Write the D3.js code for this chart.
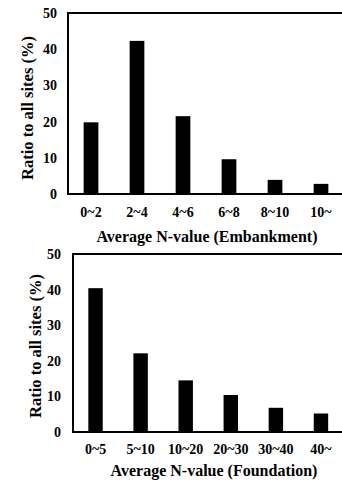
<!DOCTYPE html>
<html lang="en">
  <head>
    <script src="https://cdn.jsdelivr.net/npm/d3@7"></script>
    <style>
      body {
        margin: 0;
        background: #fff;
      }
      svg {
        display: block;
      }
    </style>
  </head>
  <body>
    <svg></svg>
  </body>
  <script>

    // Data
    const embCats = ['0~2', '2~4', '4~6', '6~8', '8~10', '10~'];
    const embVals = [19.8, 42.3, 21.5, 9.6, 3.9, 2.8];
    const fndCats = ['0~5', '5~10', '10~20', '20~30', '30~40', '40~'];
    const fndVals = [40.4, 22.1, 14.5, 10.4, 6.8, 5.2];
    const yTicks = [0, 10, 20, 30, 40, 50];

    const FONT = '"Liberation Serif", "Times New Roman", Times, "DejaVu Serif", serif';

    const width = 342;
    const height = 480;
    const svg = d3.select('svg')
        .attr('width', width)
        .attr('height', height);

    function panel(cats, vals, title, box) {
      const g = svg.append('g');

      const x = d3.scaleBand()
          .domain(cats)
          .range([box.left, box.right])
          .paddingInner(0.68)
          .paddingOuter(0.34);
      const y = d3.scaleLinear()
          .domain([0, 50])
          .range([box.bottom, box.top]);

      // bars
      g.selectAll('rect.bar')
          .data(cats.map((c, i) => ({ c: c, v: vals[i] })))
        .enter().append('rect')
          .attr('class', 'bar')
          .attr('x', d => x(d.c))
          .attr('y', d => y(d.v))
          .attr('width', x.bandwidth())
          .attr('height', d => y(0) - y(d.v))
          .attr('fill', '#000');

      // frame (right edge runs off the page)
      g.append('rect')
          .attr('x', box.left)
          .attr('y', box.top)
          .attr('width', box.right - box.left)
          .attr('height', box.bottom - box.top)
          .attr('fill', 'none')
          .attr('stroke', '#000')
          .attr('stroke-width', 2);

      const ya = g.append('g')
          .attr('transform', 'translate(' + box.left + ',0)')
          .call(d3.axisLeft(y).tickValues(yTicks).tickSize(0).tickPadding(box.yPad))
          .attr('font-family', FONT)
          .attr('font-size', 14)
          .attr('font-weight', 700);
      ya.select('.domain').remove();
      ya.selectAll('text').attr('fill', '#000');

      const xa = g.append('g')
          .attr('transform', 'translate(0,' + box.bottom + ')')
          .call(d3.axisBottom(x).tickSize(0).tickPadding(box.xPad))
          .attr('font-family', FONT)
          .attr('font-size', 14)
          .attr('font-weight', 700);
      xa.select('.domain').remove();
      xa.selectAll('text').attr('fill', '#000');

      // axis titles
      g.append('text')
          .attr('transform', 'translate(' + box.yTitleX + ',' + box.yTitleY + ') rotate(-90)')
          .attr('text-anchor', 'middle')
          .attr('dominant-baseline', 'central')
          .attr('font-family', FONT)
          .attr('font-weight', 700)
          .attr('font-size', 16.5)
          .text('Ratio to all sites (%)');

      g.append('text')
          .attr('x', box.xTitleX)
          .attr('y', box.xTitleY)
          .attr('text-anchor', 'middle')
          .attr('dominant-baseline', 'central')
          .attr('font-family', FONT)
          .attr('font-weight', 700)
          .attr('font-size', 16)
          .text(title);
    }

    panel(embCats, embVals, 'Average N-value (Embankment)', {
      left: 68, right: 344, top: 13, bottom: 194,
      yPad: 11, xPad: 13,
      yTitleX: 27, yTitleY: 108, xTitleX: 207, xTitleY: 236
    });

    panel(fndCats, fndVals, 'Average N-value (Foundation)', {
      left: 73, right: 343.5, top: 254, bottom: 432,
      yPad: 12, xPad: 12,
      yTitleX: 35, yTitleY: 346, xTitleX: 214, xTitleY: 470
    });
  </script>
</html>
